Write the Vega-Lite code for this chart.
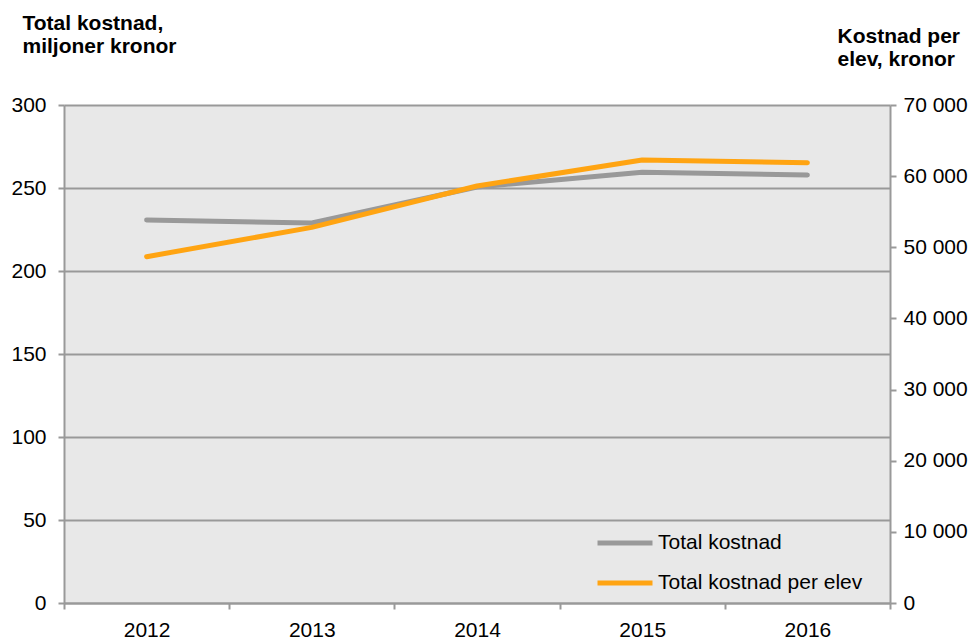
{
  "$schema": "https://vega.github.io/schema/vega-lite/v6.json",
  "autosize": {"type": "none"},
  "padding": {"left": 64, "top": 105, "right": 88, "bottom": 36},
  "width": 826,
  "height": 498,
  "data": {"values": [
    {"year": "2012", "total": 230.7, "perElev": 48680},
    {"year": "2013", "total": 228.9, "perElev": 52800},
    {"year": "2014", "total": 250.6, "perElev": 58610},
    {"year": "2015", "total": 259.5, "perElev": 62270},
    {"year": "2016", "total": 257.8, "perElev": 61880}
  ]},
  "encoding": {
    "x": {
      "field": "year", "type": "ordinal",
      "scale": {"type": "band", "paddingInner": 0, "paddingOuter": 0},
      "axis": {
        "title": null, "labelAngle": 0, "tickBand": "extent",
        "domainColor": "#999999", "domainWidth": 2, "tickColor": "#999999", "tickWidth": 2, "tickSize": 6,
        "labelFontSize": 21, "labelColor": "#000000", "labelPadding": 10, "grid": false
      }
    }
  },
  "layer": [
    {
      "mark": {"type": "line", "strokeWidth": 5, "strokeCap": "round", "strokeJoin": "round"},
      "encoding": {
        "y": {
          "field": "total", "type": "quantitative",
          "scale": {"domain": [0, 300], "nice": false},
          "axis": {
            "values": [0, 50, 100, 150, 200, 250, 300],
            "title": ["Total kostnad,", "miljoner kronor"],
            "titleAngle": 0, "titleAlign": "left", "titleBaseline": "alphabetic",
            "titleX": -42, "titleY": -76, "titleFontSize": 21, "titleFontWeight": "bold", "titleLineHeight": 23, "titleColor": "#000000",
            "grid": true, "gridColor": "#999999", "gridWidth": 2,
            "domainColor": "#999999", "domainWidth": 2, "tickColor": "#999999", "tickWidth": 2, "tickSize": 6,
            "labelFontSize": 21, "labelColor": "#000000", "labelPadding": 12
          }
        },
        "color": {"datum": "Total kostnad"}
      }
    },
    {
      "mark": {"type": "line", "strokeWidth": 5, "strokeCap": "round", "strokeJoin": "round"},
      "encoding": {
        "y": {
          "field": "perElev", "type": "quantitative",
          "scale": {"domain": [0, 70000], "nice": false},
          "axis": {
            "orient": "right",
            "values": [0, 10000, 20000, 30000, 40000, 50000, 60000, 70000],
            "labelExpr": "replace(format(datum.value, ','), ',', ' ')",
            "title": ["Kostnad per", "elev, kronor"],
            "titleAngle": 0, "titleAlign": "left", "titleBaseline": "alphabetic",
            "titleX": -53, "titleY": -63, "titleFontSize": 21, "titleFontWeight": "bold", "titleLineHeight": 23, "titleColor": "#000000",
            "grid": false,
            "domainColor": "#999999", "domainWidth": 2, "tickColor": "#999999", "tickWidth": 2, "tickSize": 6,
            "labelFontSize": 21, "labelColor": "#000000", "labelPadding": 7
          }
        },
        "color": {"datum": "Total kostnad per elev"}
      }
    }
  ],
  "resolve": {"scale": {"y": "independent"}},
  "config": {
    "font": "Liberation Sans",
    "view": {"fill": "#e8e8e8", "stroke": null},
    "range": {"category": ["#999999", "#ffa412"]},
    "legend": {
      "orient": "none", "legendX": 531, "legendY": 408,
      "title": null, "symbolType": "stroke", "symbolSize": 3025, "symbolStrokeWidth": 5,
      "labelFontSize": 21, "labelColor": "#000000", "labelOffset": 3, "labelLimit": 0, "rowPadding": -14, "padding": 0
    }
  }
}
